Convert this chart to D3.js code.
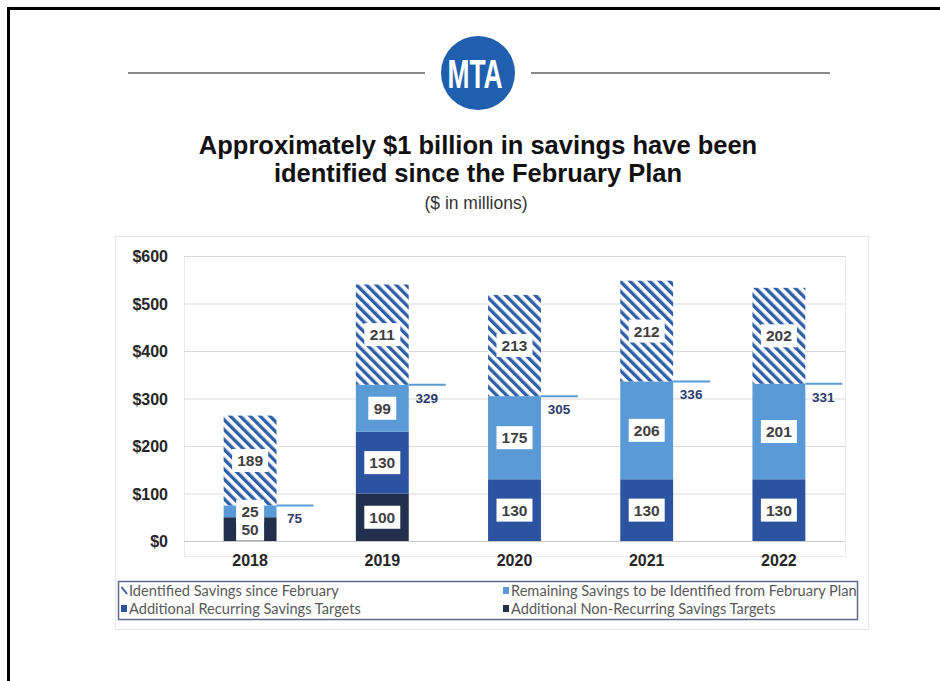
<!DOCTYPE html>
<html>
<head>
<meta charset="utf-8">
<script src="https://cdn.jsdelivr.net/npm/d3@7"></script>
<style>
  body { margin: 0; background: #fff; }
  svg { display: block; }
</style>
</head>
<body>
<div id="chart"></div>
<script>
// chart values
var years = ["2018", "2019", "2020", "2021", "2022"];
var nonRecurring = [50, 100, 0, 0, 0];
var recurring = [0, 130, 130, 130, 130];
var remaining = [25, 99, 175, 206, 201];
var identified = [189, 211, 213, 212, 202];
var planTotals = [75, 329, 305, 336, 331];
var yTicks = [0, 100, 200, 300, 400, 500, 600];

var keys = ["nonRecurring", "recurring", "remaining", "identified"];
var legendNames = {
    identified: "Identified Savings since February",
    remaining: "Remaining Savings to be Identified from February Plan",
    recurring: "Additional Recurring Savings Targets",
    nonRecurring: "Additional Non-Recurring Savings Targets"
};
var colors = {
    nonRecurring: "#222f4d",
    recurring: "#2b53a0",
    remaining: "#5a9ad6",
    identified: "url(#hatch)"
};

var rows = years.map(function(y, i) {
    return {
        year: y,
        nonRecurring: nonRecurring[i],
        recurring: recurring[i],
        remaining: remaining[i],
        identified: identified[i],
        plan: planTotals[i]
    };
});

var svgWidth = 940;
var svgHeight = 681;

var svg = d3.select("#chart")
    .append("svg")
    .attr("width", svgWidth)
    .attr("height", svgHeight);

var defs = svg.append("defs");
var hatch = defs.append("pattern")
    .attr("id", "hatch")
    .attr("patternUnits", "userSpaceOnUse")
    .attr("width", 7)
    .attr("height", 7)
    .attr("patternTransform", "rotate(-45)");
hatch.append("rect").attr("width", 7).attr("height", 7).attr("fill", "#fff");
hatch.append("rect").attr("width", 3.4).attr("height", 7).attr("fill", "#2f5fa9");

// page frame
svg.append("path")
    .attr("d", "M8.5,681 V8.5 H940")
    .attr("fill", "none")
    .attr("stroke", "#000")
    .attr("stroke-width", 3);

// logo with rules
svg.append("line").attr("x1", 128).attr("x2", 425).attr("y1", 73).attr("y2", 73)
    .attr("stroke", "#8a8a8a").attr("stroke-width", 2);
svg.append("line").attr("x1", 531).attr("x2", 830).attr("y1", 73).attr("y2", 73)
    .attr("stroke", "#8a8a8a").attr("stroke-width", 2);
svg.append("circle").attr("cx", 478).attr("cy", 73).attr("r", 37).attr("fill", "#1f5fae");
svg.append("text")
    .attr("transform", "translate(475,88) scale(0.66,1)")
    .attr("text-anchor", "middle")
    .attr("font-family", "Liberation Sans, Arial, sans-serif")
    .attr("font-weight", "bold")
    .attr("font-size", 40)
    .attr("fill", "#fff")
    .text("MTA");

// titles
var titleFont = "Liberation Sans, Arial, sans-serif";
svg.append("text").attr("x", 478).attr("y", 154).attr("text-anchor", "middle")
    .attr("font-family", titleFont).attr("font-weight", "bold").attr("font-size", 25.5)
    .attr("fill", "#111").text("Approximately  $1 billion in savings have been");
svg.append("text").attr("x", 478).attr("y", 182).attr("text-anchor", "middle")
    .attr("font-family", titleFont).attr("font-weight", "bold").attr("font-size", 25.5)
    .attr("fill", "#111").text("identified since the February Plan");
svg.append("text").attr("x", 476).attr("y", 209).attr("text-anchor", "middle")
    .attr("font-family", titleFont).attr("font-size", 17.5)
    .attr("fill", "#333").text("($ in millions)");

// chart area box
svg.append("rect").attr("x", 115.5).attr("y", 236.5).attr("width", 753).attr("height", 393)
    .attr("fill", "#fff").attr("stroke", "#e6e6e6");

var margin = { top: 256, left: 184, right: 845, bottom: 541 };

var xScale = d3.scaleBand()
    .domain(years)
    .range([margin.left, margin.right])
    .paddingInner(0.6)
    .paddingOuter(0.3);

var yScale = d3.scaleLinear()
    .domain([0, 600])
    .range([margin.bottom, margin.top]);

// plot area border
svg.append("rect").attr("x", margin.left + 0.5).attr("y", margin.top + 0.5)
    .attr("width", margin.right - margin.left).attr("height", 300)
    .attr("fill", "none").attr("stroke", "#ececec");

// gridlines
var grid = svg.append("g")
    .attr("transform", "translate(" + margin.left + ",0)")
    .call(d3.axisLeft(yScale).tickValues(yTicks).tickSize(-(margin.right - margin.left)).tickFormat(""));
grid.select(".domain").remove();
grid.selectAll("line").attr("stroke", "#d9d9d9");
grid.selectAll(".tick").filter(function(d) { return d === 0; }).select("line").attr("stroke", "#c8c8c8");

// y tick labels
var yAxis = svg.append("g")
    .attr("transform", "translate(168,0)")
    .call(d3.axisLeft(yScale).tickValues(yTicks).tickSize(0).tickFormat(function(d) { return "$" + d; }));
yAxis.select(".domain").remove();
yAxis.selectAll("text")
    .attr("font-family", titleFont).attr("font-weight", "bold").attr("font-size", 16)
    .attr("fill", "#262626").attr("dy", "0.35em").attr("x", 0);

// x labels
var xAxis = svg.append("g")
    .attr("transform", "translate(0," + margin.bottom + ")")
    .call(d3.axisBottom(xScale).tickSize(0));
xAxis.select(".domain").remove();
xAxis.selectAll("text")
    .attr("font-family", titleFont).attr("font-weight", "bold").attr("font-size", 16)
    .attr("fill", "#262626").attr("dy", "1.35em");

// stacked bars
var series = d3.stack().keys(keys)(rows);

var layers = svg.append("g").selectAll("g")
    .data(series)
    .join("g")
    .attr("fill", function(d) { return colors[d.key]; });

layers.selectAll("rect")
    .data(function(d) { return d; })
    .join("rect")
    .attr("x", function(d) { return xScale(d.data.year); })
    .attr("width", xScale.bandwidth())
    .attr("y", function(d) { return yScale(d[1]); })
    .attr("height", function(d) { return yScale(d[0]) - yScale(d[1]); });

// plan total markers
var plan = svg.append("g");
plan.selectAll("line")
    .data(rows)
    .join("line")
    .attr("x1", function(d) { return xScale(d.year) + xScale.bandwidth(); })
    .attr("x2", function(d) { return xScale(d.year) + xScale.bandwidth() + 37; })
    .attr("y1", function(d) { return yScale(d.plan); })
    .attr("y2", function(d) { return yScale(d.plan); })
    .attr("stroke", "#5b9bd5")
    .attr("stroke-width", 2);
plan.selectAll("text")
    .data(rows)
    .join("text")
    .attr("x", function(d) { return xScale(d.year) + xScale.bandwidth() + 18; })
    .attr("y", function(d) { return yScale(d.plan) + 18; })
    .attr("text-anchor", "middle")
    .attr("font-family", titleFont).attr("font-weight", "bold").attr("font-size", 13.5)
    .attr("fill", "#2b3b6e")
    .text(function(d) { return d.plan; });

// value label boxes
var labelData = [];
series.forEach(function(s) {
    s.forEach(function(d) {
        var v = d[1] - d[0];
        if (v > 0) labelData.push({ year: d.data.year, value: v, mid: (d[0] + d[1]) / 2 });
    });
});

var labels = svg.append("g").selectAll("g")
    .data(labelData)
    .join("g")
    .attr("transform", function(d) {
        return "translate(" + (xScale(d.year) + xScale.bandwidth() / 2) + "," + yScale(d.mid) + ")";
    });
labels.append("rect")
    .attr("x", function(d) { return d.value >= 100 ? -18 : -14; })
    .attr("y", -11.5)
    .attr("width", function(d) { return d.value >= 100 ? 36 : 28; })
    .attr("height", 23)
    .attr("fill", "#fff");
labels.append("text")
    .attr("text-anchor", "middle")
    .attr("dy", "0.36em")
    .attr("font-family", titleFont).attr("font-weight", "bold").attr("font-size", 15.5)
    .attr("fill", "#404040")
    .text(function(d) { return d.value; });

// legend
var legendFont = "Lato, Carlito, sans-serif";
svg.append("rect").attr("x", 118.5).attr("y", 581.5).attr("width", 739).attr("height", 38)
    .attr("fill", "#fff").attr("stroke", "#5d6b8c").attr("stroke-width", 1.5);

var legendItems = [
    { key: "identified", x: 121, y: 591 },
    { key: "remaining", x: 503, y: 591 },
    { key: "recurring", x: 121, y: 609 },
    { key: "nonRecurring", x: 503, y: 609 }
];
var legend = svg.append("g").selectAll("g")
    .data(legendItems)
    .join("g")
    .attr("transform", function(d) { return "translate(" + d.x + "," + d.y + ")"; });
legend.append("rect")
    .attr("x", 0).attr("y", -4).attr("width", 6).attr("height", 7)
    .attr("fill", function(d) { return d.key === "identified" ? "#fff" : colors[d.key]; });
legend.filter(function(d) { return d.key === "identified"; })
    .append("line")
    .attr("x1", 0.5).attr("y1", -4).attr("x2", 6).attr("y2", 3)
    .attr("stroke", "#2f5fa9").attr("stroke-width", 2);
legend.append("text")
    .attr("x", 8)
    .attr("dy", "0.35em")
    .attr("font-family", legendFont)
    .attr("font-size", 14.6)
    .attr("fill", "#595959")
    .text(function(d) { return legendNames[d.key]; });
</script>
</body>
</html>
